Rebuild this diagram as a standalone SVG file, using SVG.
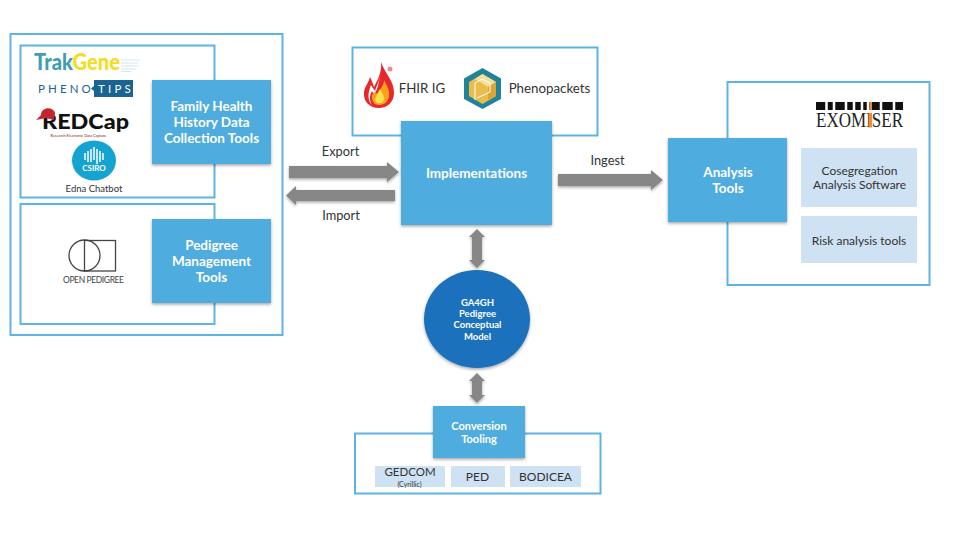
<svg xmlns="http://www.w3.org/2000/svg" width="960" height="540" viewBox="0 0 960 540">
<style>
text{font-family:Lato,"Open Sans","Liberation Sans",sans-serif;text-anchor:middle}
.box{fill:#fff;stroke:#5db4e3;stroke-width:2}
.node{fill:#4facdf;filter:url(#sh)}
.t{fill:#fff;font-weight:700;font-size:13.500px}
.lab{fill:#333;font-size:13.300px}
.m{font-size:9.500px;font-weight:700}
.c{font-size:11px}
.x{font-size:12px}
.light{fill:#cfe2f3}
.arrow{fill:#878787;filter:url(#sh)}
</style>
<defs>
<filter id="sh" x="-20%" y="-20%" width="140%" height="140%"><feDropShadow dx="0" dy="1.500" stdDeviation="1.500" flood-color="#000" flood-opacity=".35"/></filter>
</defs>
<rect width="960" height="540" fill="#fff"/>
<g id="frames">
<rect class="box" x="10.500" y="34" width="272" height="301"/>
<rect class="box" x="20.500" y="45.500" width="194" height="152"/>
<rect class="box" x="20.500" y="204" width="194" height="120"/>
<rect class="box" x="352.500" y="47.500" width="245" height="88"/>
<rect class="box" x="727.500" y="82" width="202" height="203"/>
<rect class="box" x="355" y="433.500" width="245.500" height="60"/>
</g>
<g id="connectors">
<path class="arrow" d="M289 166H387V162L399 172L387 182V178H289Z"/>
<path class="arrow" d="M395 190H296V186L286 195.500L296 205V201H395Z"/>
<path class="arrow" d="M558 174H651V170L663 180L651 190V186H558Z"/>
<path class="arrow" d="M477 229L485 237H482V260H485L477 268L469 260H472V237H469Z"/>
<path class="arrow" d="M477 373L485 381H482V395H485L477 403L469 395H472V381H469Z"/>
<text class="lab" x="340.500" y="156" style="font-size:12.800px">Export</text>
<text class="lab" x="341" y="220" style="font-size:12.800px">Import</text>
<text class="lab" x="607.500" y="165" style="font-size:12.800px">Ingest</text>
</g>
<g id="family-health">
<rect class="node" x="152" y="80" width="119" height="84"/>
<text class="t" x="211.500" y="111">Family Health</text>
<text class="t" x="211.500" y="127">History Data</text>
<text class="t" x="211.500" y="143">Collection Tools</text>
</g>
<g id="pedigree-tools">
<rect class="node" x="152" y="219" width="119" height="84"/>
<text class="t" x="211.500" y="250">Pedigree</text>
<text class="t" x="211.500" y="266">Management</text>
<text class="t" x="211.500" y="282">Tools</text>
</g>
<g id="logo-trakgene">
<text x="34" y="70" font-size="22" font-weight="900" textLength="86" lengthAdjust="spacingAndGlyphs" style="text-anchor:start" fill="#3f9fb0">Trak<tspan fill="#f4dc1e">Gene</tspan></text>
<path d="M121 60h19M121 63h17M121 66h18M121 69h15M121 71.500h10" stroke="#d3e6ee" stroke-width="1.200"/>
</g>
<g id="logo-phenotips">
<path d="M94 80H133V97H94V91L91 88.500L94 86Z" fill="#1b6391"/>
<text x="38" y="93" font-size="11.500" style="text-anchor:start;letter-spacing:3.100px" fill="#1b6391">PHENO</text>
<text x="98" y="93" font-size="11.500" style="text-anchor:start;letter-spacing:3.200px" fill="#fff">TIPS</text>
</g>
<g id="logo-redcap">
<text x="42" y="129" font-size="20" font-weight="900" textLength="87" lengthAdjust="spacingAndGlyphs" style="text-anchor:start" fill="#111">REDCap</text>
<path d="M36 120L41 115C41 107 53 106 55 113L54 120L46 118Z" fill="#c1272d"/>
<text x="78.500" y="136.500" font-size="3.800" fill="#7a1c20">Research Electronic Data Capture</text>
</g>
<g id="logo-csiro">
<ellipse cx="94" cy="160.500" rx="22" ry="20" fill="#15a3d2"/>
<path d="M85 153v7M88 151v11M91 149v13M94 147v13M97 149v15M100 151v11M103 153v7" stroke="#fff" stroke-width="1.500" fill="none"/>
<text x="94" y="171" font-size="8" font-weight="700" fill="#fff">CSIRO</text>
<text x="94" y="192" font-size="9.500" fill="#333">Edna Chatbot</text>
</g>
<g id="logo-open-pedigree">
<circle cx="84.500" cy="255.500" r="15.500" fill="none" stroke="#444" stroke-width="1.300"/>
<rect x="84.500" y="240.500" width="31" height="30.500" fill="none" stroke="#444" stroke-width="1.300"/>
<text x="93.500" y="283" font-size="8.500" textLength="61" fill="#444">OPEN PEDIGREE</text>
</g>
<g id="fhir-ig">
<path d="M381 62C385 74 394 80 394 93C394 102 387 108 379 108C370 108 363 102 364 92C365 86 369 82 370 77C372 81 373 84 374 87C378 79 382 72 381 62Z" fill="#e8272c"/>
<path d="M381 71C381 78 377 84 375 91C373 88 372 87 371 85C368 92 367 100 372 105C368 98 371 93 372 91C374 95 376 93 378 86C379 80 381 76 381 71Z" fill="#fff"/>
<path d="M384 80C387 86 390 90 389 96C388 103 383 105 379 105C374 105 371 100 372 95C374 92 376 92 377 94C379 90 384 86 384 80Z" fill="#f7a11d"/>
<path d="M380 89C383 94 385 97 384 100C383 104 378 104 376 102C374 99 377 95 380 89Z" fill="#fde04a"/>
<circle cx="390" cy="69" r="2.500" fill="#ef8a8a"/>
<text x="422" y="93" class="lab">FHIR IG</text>
</g>
<g id="phenopackets">
<path d="M482.500 68L501 78.500V99L482.500 109L464 99V78.500Z" fill="#1f8399"/>
<path d="M482.500 74L496 82V96L482.500 104L469 96V82Z" fill="#e9bd4c"/>
<path d="M482.500 74L496 82L488 87L475 79Z" fill="#f5de9a"/>
<path d="M488 87L496 82V96L488 101Z" fill="#d9a535"/>
<path d="M475 100V83L482 79L490 83V92L477 98" fill="none" stroke="#fff" stroke-width="1"/>
<text x="549.500" y="93" class="lab">Phenopackets</text>
</g>
<g id="implementations">
<rect class="node" x="401" y="121" width="151" height="104"/>
<text class="t" x="476.500" y="178">Implementations</text>
</g>
<g id="analysis-tools">
<rect class="node" x="668" y="138" width="119" height="84"/>
<text class="t" x="728" y="177">Analysis</text>
<text class="t" x="728" y="193">Tools</text>
</g>
<g id="logo-exomiser">
<rect x="816" y="102" width="87" height="8" fill="#111"/>
<path d="M826.500 102v8M834 102v8M846 102v8M854 102v8M862 102v8M868 102v8M881 102v8M894 102v8" stroke="#fff" stroke-width="2.500"/>
<rect x="869.500" y="102" width="2.500" height="8" fill="#ef8a3a"/>
<text x="859.500" y="127" textLength="87" lengthAdjust="spacingAndGlyphs" font-size="20" fill="#222" style="font-family:'Liberation Serif',serif">EXOMISER</text>
<rect x="868.500" y="113" width="3.500" height="14.500" fill="#ef8a3a"/>
</g>
<g id="cosegregation">
<rect class="light" x="801" y="148" width="116" height="59"/>
<text class="lab x" x="859.500" y="175">Cosegregation</text>
<text class="lab x" x="859.500" y="189">Analysis Software</text>
</g>
<g id="risk-analysis">
<rect class="light" x="801" y="216" width="116" height="47"/>
<text class="lab x" x="859" y="244.500">Risk analysis tools</text>
</g>
<g id="conceptual-model">
<ellipse cx="477" cy="319" rx="53" ry="49" fill="#1a71bc" filter="url(#sh)"/>
<text class="t m" x="477.500" y="306">GA4GH</text>
<text class="t m" x="477.500" y="317">Pedigree</text>
<text class="t m" x="477.500" y="328">Conceptual</text>
<text class="t m" x="477.500" y="340">Model</text>
</g>
<g id="conversion-tooling">
<rect class="node" x="433" y="406" width="92" height="52"/>
<text class="t c" x="479" y="429.500">Conversion</text>
<text class="t c" x="479" y="442.500">Tooling</text>
</g>
<g id="gedcom">
<rect class="light" x="375" y="466" width="70" height="21"/>
<text class="lab" x="410" y="476" style="font-size:11.500px">GEDCOM</text>
<text class="lab" x="409.500" y="486.500" style="font-size:7px">(Cyrillic)</text>
</g>
<g id="ped">
<rect class="light" x="451" y="466" width="54" height="21"/>
<text class="lab x" x="477.500" y="481">PED</text>
</g>
<g id="bodicea">
<rect class="light" x="510" y="466" width="71" height="21"/>
<text class="lab x" x="545.500" y="481">BODICEA</text>
</g>
</svg>
